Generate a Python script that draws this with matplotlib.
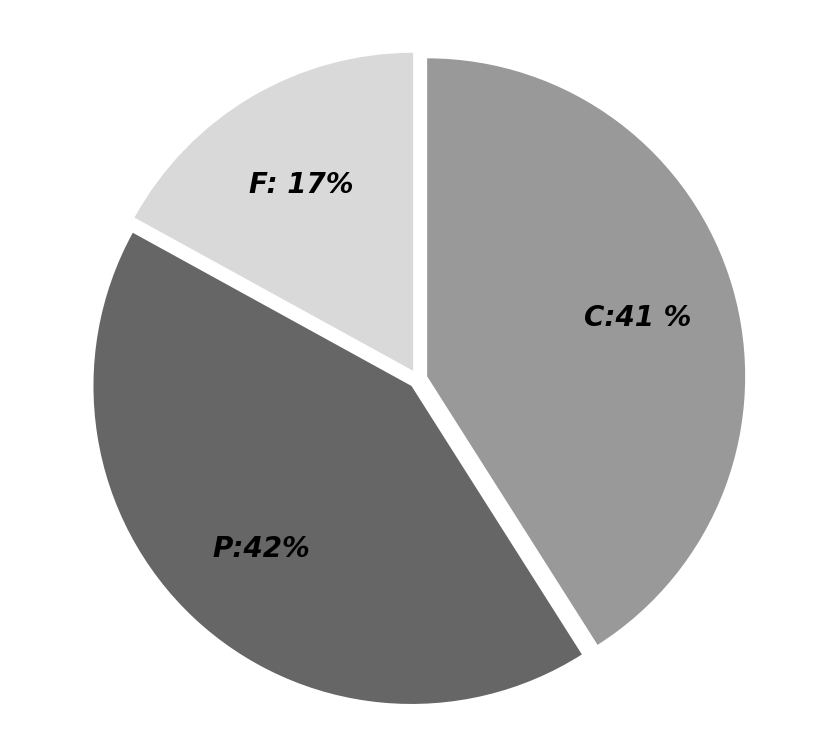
import matplotlib.pyplot as plt

# data
labels = ["C:41 %", "P:42%", "F: 17%"]
shares = [41, 42, 17]
colors = ["#999999", "#666666", "#d9d9d9"]
explode = [0.03, 0.03, 0.03]

fig = plt.figure(figsize=(8.24, 7.46), dpi=100)
ax = fig.add_axes([0, 0, 1, 1])

wedges, texts = ax.pie(
    shares,
    labels=labels,
    colors=colors,
    explode=explode,
    startangle=90,
    counterclock=False,
    labeldistance=0.69,
    radius=1.0,
)
for t in texts:
    t.set_ha("center")
    t.set_va("center_baseline")
    t.set_fontsize(20)
    t.set_fontweight("bold")
    t.set_fontstyle("italic")
    t.set_color("black")

# place pie: 318 px per unit, centre at (418, 379) from top-left
scale = 318.0
ax.set_xlim(-418 / scale, (824 - 418) / scale)
ax.set_ylim(-(746 - 379) / scale, 379 / scale)
ax.set_aspect("auto")
ax.axis("off")

plt.savefig("out.png", dpi=100)
